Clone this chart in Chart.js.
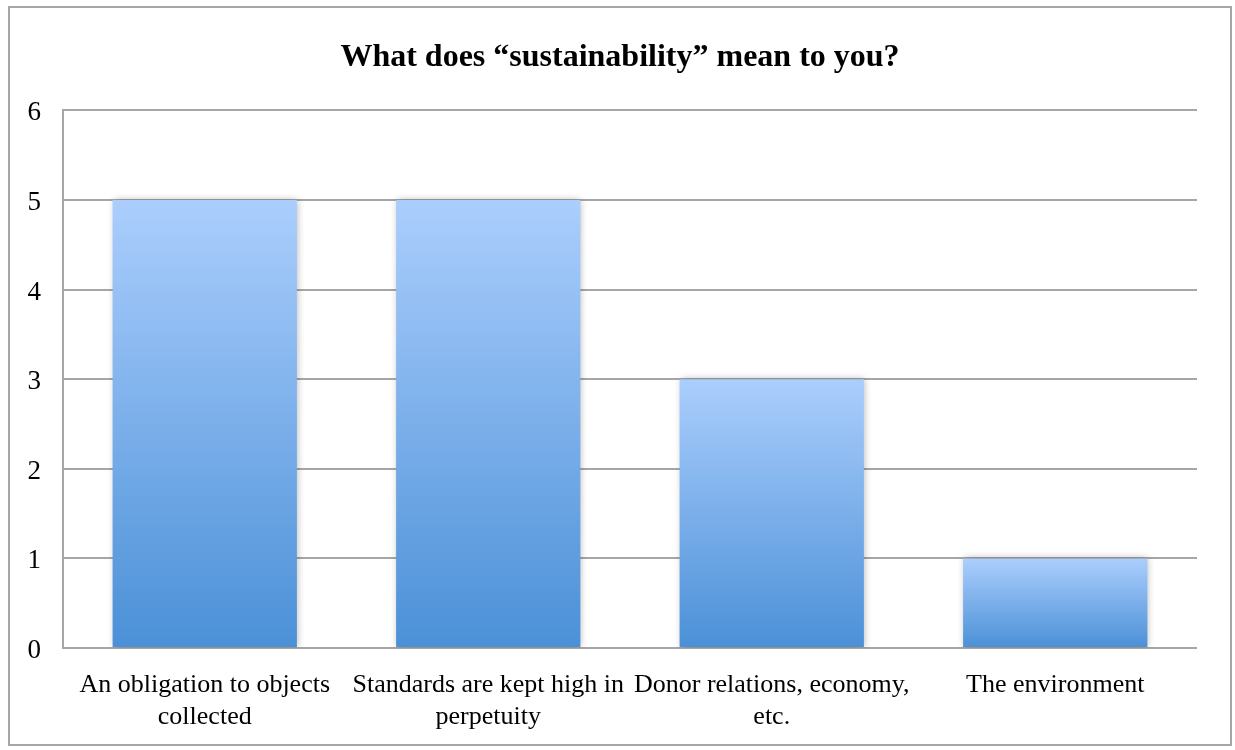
<!DOCTYPE html>
<html>
<head>
<meta charset="utf-8">
<script src="https://cdn.jsdelivr.net/npm/chart.js@4/dist/chart.umd.min.js"></script>
<style>
  html, body { margin: 0; padding: 0; background: #ffffff; }
  canvas { display: block; }
</style>
</head>
<body>
<canvas id="chart" width="1235" height="750"></canvas>
<script>
// Survey answers: what "sustainability" means to respondents
const categories = [
  ["An obligation to objects", "collected"],
  ["Standards are kept high in", "perpetuity"],
  ["Donor relations, economy,", "etc."],
  ["The environment"]
];
const responses = [5, 5, 3, 1];
const yTicks = [0, 1, 2, 3, 4, 5, 6];

const GRID = '#a6a6a6';
const SERIF = '"Liberation Serif", "Times New Roman", serif';
const FRAME = { x: 9, y: 7, w: 1222, h: 738 };

// Vertical gradient per bar: pale blue at the top, deeper blue at the base
function barGradient(ctx) {
  const chart = ctx.chart;
  const area = chart.chartArea;
  if (!area || ctx.type !== 'data') return '#8ab8ef';
  const y = chart.scales.y;
  const top = y.getPixelForValue(ctx.raw);
  const base = y.getPixelForValue(0);
  const g = chart.ctx.createLinearGradient(0, top, 0, base);
  g.addColorStop(0, '#abcefd');
  g.addColorStop(1, '#4b90d7');
  return g;
}

// Outer frame around the whole chart; title centred on the frame
const framePlugin = {
  id: 'frame',
  afterLayout(chart) {
    const t = chart.titleBlock;
    if (t) {
      t.left = FRAME.x;
      t.right = FRAME.x + FRAME.w;
      t.width = FRAME.w;
    }
  },
  afterDraw(chart) {
    const c = chart.ctx;
    c.save();
    c.strokeStyle = GRID;
    c.lineWidth = 2;
    c.strokeRect(FRAME.x, FRAME.y, FRAME.w, FRAME.h);
    c.restore();
  }
};

// Soft shadow around the bars
const shadowPlugin = {
  id: 'barShadow',
  beforeDatasetsDraw(chart) {
    const c = chart.ctx;
    c.save();
    c.shadowColor = 'rgba(0,0,0,0.28)';
    c.shadowBlur = 7;
    c.shadowOffsetX = 1;
    c.shadowOffsetY = 0;
  },
  afterDatasetsDraw(chart) {
    chart.ctx.restore();
  }
};

new Chart(document.getElementById('chart'), {
  type: 'bar',
  data: {
    labels: categories,
    datasets: [{
      data: responses,
      backgroundColor: barGradient,
      borderWidth: 0,
      categoryPercentage: 1,
      barPercentage: 0.65
    }]
  },
  options: {
    responsive: false,
    animation: false,
    devicePixelRatio: 1,
    layout: { padding: { left: 0, right: 38, top: 0, bottom: 0 } },
    plugins: {
      legend: { display: false },
      tooltip: { enabled: false },
      title: {
        display: true,
        text: 'What does \u201csustainability\u201d mean to you?',
        color: '#000000',
        font: { family: SERIF, size: 32, weight: 'bold', lineHeight: 1.2 },
        padding: { top: 39, bottom: 33 }
      }
    },
    scales: {
      x: {
        grid: { display: false },
        border: { display: false },
        ticks: {
          color: '#000000',
          font: { family: SERIF, size: 26, lineHeight: 1.2 },
          padding: 14,
          maxRotation: 0,
          minRotation: 0,
          autoSkip: false
        },
        afterFit(scale) { scale.height = 102; }
      },
      y: {
        min: 0,
        max: 6,
        afterBuildTicks(scale) { scale.ticks = yTicks.map(v => ({ value: v })); },
        grid: { color: GRID, lineWidth: 2, drawTicks: false },
        border: { display: true, color: GRID, width: 2 },
        ticks: {
          color: '#000000',
          font: { family: SERIF, size: 27 },
          padding: 22,
          labelOffset: 3
        },
        afterFit(scale) { scale.width = 63; }
      }
    }
  },
  plugins: [framePlugin, shadowPlugin]
});
</script>
</body>
</html>
